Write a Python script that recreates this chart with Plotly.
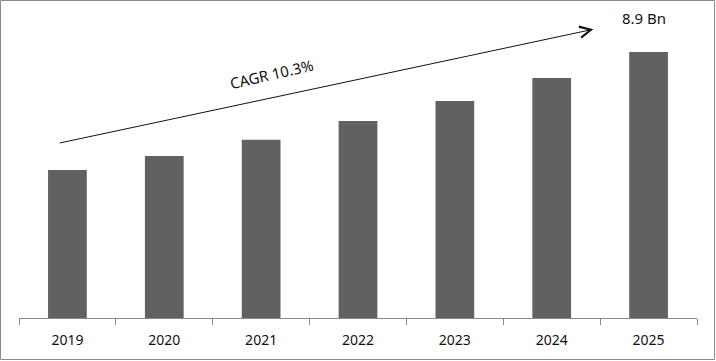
import plotly.graph_objects as go

years = ["2019", "2020", "2021", "2022", "2023", "2024", "2025"]
values = [4.95, 5.42, 5.96, 6.59, 7.26, 8.03, 8.9]
cagr_label = "CAGR 10.3%"
unit = "Bn"

W, H = 716, 361
ML, MR, MT, MB = 19, 19, 0, 43
PW, PH = W - ML - MR, H - MT - MB

def px(x):
    return (x - ML) / PW

def py(y):
    return (H - MB - y) / PH

FONT = "Noto Sans"
BAR = "#616161"
GRAY = "#8a8a8a"

fig = go.Figure(go.Bar(x=years, y=values, marker_color=BAR, marker_line_width=0, width=0.4))

fig.update_layout(
    width=W, height=H,
    margin=dict(l=ML, r=MR, t=MT, b=MB, pad=0, autoexpand=False),
    paper_bgcolor="white", plot_bgcolor="white",
    showlegend=False,
    font=dict(family=FONT, color="#111111", size=14),
    bargap=0.6,
)
fig.update_xaxes(
    type="category", showline=True, linecolor=GRAY, linewidth=1, automargin=False,
    ticks="outside", tickson="boundaries", ticklen=6, tickcolor=GRAY, tickwidth=1,
    showgrid=False, zeroline=False, ticklabelstandoff=9,
    tickfont=dict(family=FONT, size=14, color="#111111"),
)
fig.update_yaxes(visible=False, automargin=False, range=[0, values[-1] / 266 * PH],
                 showgrid=False, zeroline=False)

# border
fig.add_shape(type="rect", xref="paper", yref="paper",
              x0=px(0.5), x1=px(714.5), y0=py(359.5), y1=py(0.5),
              line=dict(color=GRAY, width=1), fillcolor="rgba(0,0,0,0)", layer="above")

# CAGR arrow
fig.add_annotation(xref="paper", yref="paper", x=px(593.3), y=py(29.3),
                   ax=-535, ay=114, axref="pixel", ayref="pixel",
                   text="", showarrow=True, arrowhead=5, arrowsize=2.2,
                   arrowwidth=1.0, arrowcolor="#111111", standoff=0, startstandoff=0)
fig.add_annotation(xref="paper", yref="paper", x=px(271), y=py(74),
                   xanchor="center", yanchor="middle",
                   text=cagr_label, showarrow=False, textangle=-13,
                   font=dict(family=FONT, size=15, color="#111111"))
fig.add_annotation(xref="paper", yref="paper", x=px(644), y=py(17.5),
                   xanchor="center", yanchor="middle",
                   text=f"{values[-1]} {unit}", showarrow=False,
                   font=dict(family=FONT, size=15, color="#111111"))

fig.write_html("out.html", config={"displayModeBar": False},
               post_script="document.body.style.margin='0';document.body.style.padding='0';")
